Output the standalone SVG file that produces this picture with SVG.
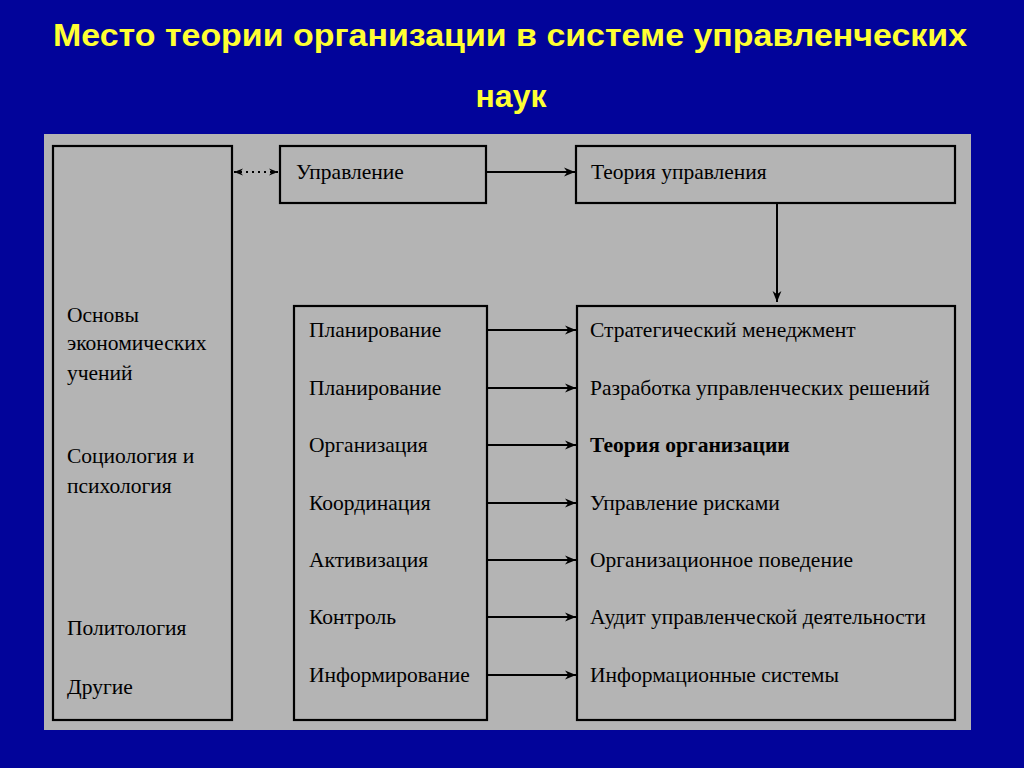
<svg xmlns="http://www.w3.org/2000/svg" width="1024" height="768" viewBox="0 0 1024 768">
<style>
.box{fill:none;stroke:#000;stroke-width:2.2}
.t{font-family:"Liberation Serif","Times New Roman",serif;font-size:21.5px;fill:#000}
.b{font-weight:bold}
.ttl{font-family:"Liberation Sans",Arial,sans-serif;font-size:32px;font-weight:bold;fill:#ffff33;text-anchor:middle}
.c{stroke:#000;stroke-width:2;fill:none}
</style>
<defs>
<marker id="ah2" viewBox="0 0 10 10" refX="10" refY="5" markerWidth="11" markerHeight="11" orient="auto-start-reverse" markerUnits="userSpaceOnUse">
<path d="M0,1 L10,5 L0,9 L3,5 z" fill="#000"/>
</marker>
<marker id="ah3" viewBox="0 0 10 10" refX="10" refY="5" markerWidth="9" markerHeight="9" orient="auto-start-reverse" markerUnits="userSpaceOnUse">
<path d="M0,1 L10,5 L0,9 L3,5 z" fill="#000"/>
</marker>
</defs>
<rect width="1024" height="768" fill="#02049a"/>
<text class="ttl" x="510" y="46" textLength="914" lengthAdjust="spacingAndGlyphs">Место теории организации в системе управленческих</text>
<text class="ttl" x="511" y="107">наук</text>
<rect x="44" y="134" width="927" height="596" fill="#b4b4b4"/>

<g id="n-left"><rect class="box" x="53" y="146" width="179" height="574"/>
<text class="t" x="67" y="322">Основы</text>
<text class="t" x="67" y="350">экономических</text>
<text class="t" x="67" y="380">учений</text>
<text class="t" x="67" y="463">Социология и</text>
<text class="t" x="67" y="493">психология</text>
<text class="t" x="67" y="635">Политология</text>
<text class="t" x="67" y="694">Другие</text></g>

<g id="n-upr"><rect class="box" x="280" y="146" width="206" height="57"/>
<text class="t" x="296" y="179">Управление</text></g>

<g id="n-teor"><rect class="box" x="576" y="146" width="379" height="57"/>
<text class="t" x="591" y="179">Теория управления</text></g>

<g id="n-func"><rect class="box" x="294" y="306" width="193" height="414"/>
<text class="t" x="309" y="337">Планирование</text>
<text class="t" x="309" y="395">Планирование</text>
<text class="t" x="309" y="452">Организация</text>
<text class="t" x="309" y="510">Координация</text>
<text class="t" x="309" y="567">Активизация</text>
<text class="t" x="309" y="624">Контроль</text>
<text class="t" x="309" y="682">Информирование</text></g>

<g id="n-disc"><rect class="box" x="577" y="306" width="378" height="414"/>
<text class="t" x="590" y="337">Стратегический менеджмент</text>
<text class="t" x="590" y="395">Разработка управленческих решений</text>
<text class="t b" x="590" y="452">Теория организации</text>
<text class="t" x="590" y="510">Управление рисками</text>
<text class="t" x="590" y="567">Организационное поведение</text>
<text class="t" x="590" y="624">Аудит управленческой деятельности</text>
<text class="t" x="590" y="682">Информационные системы</text></g>

<g id="connectors">
<line x1="234" y1="172" x2="278" y2="172" stroke="#000" stroke-width="2" stroke-dasharray="2,4" marker-start="url(#ah3)" marker-end="url(#ah3)"/>
<line class="c" x1="486" y1="172" x2="575" y2="172" marker-end="url(#ah2)"/>
<line class="c" x1="777" y1="203" x2="777" y2="302" marker-end="url(#ah2)"/>
<line class="c" x1="487" y1="330" x2="576" y2="330" marker-end="url(#ah2)"/>
<line class="c" x1="487" y1="388" x2="576" y2="388" marker-end="url(#ah2)"/>
<line class="c" x1="487" y1="445" x2="576" y2="445" marker-end="url(#ah2)"/>
<line class="c" x1="487" y1="503" x2="576" y2="503" marker-end="url(#ah2)"/>
<line class="c" x1="487" y1="560" x2="576" y2="560" marker-end="url(#ah2)"/>
<line class="c" x1="487" y1="617" x2="576" y2="617" marker-end="url(#ah2)"/>
<line class="c" x1="487" y1="675" x2="576" y2="675" marker-end="url(#ah2)"/>
</g>
</svg>
